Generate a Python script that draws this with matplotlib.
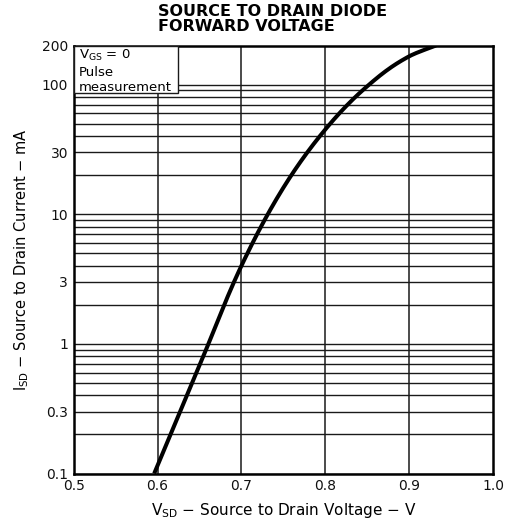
import matplotlib
matplotlib.use("Agg")
import matplotlib.pyplot as plt
import numpy as np
from matplotlib.ticker import FixedLocator, NullLocator, FixedFormatter

plt.rcParams['font.family'] = ['DejaVu Sans']

# data
vsd = [0.596, 0.65, 0.70, 0.75, 0.80, 0.85, 0.90, 0.932]
isd = [0.1, 0.68, 4.0, 16.0, 45.0, 97.0, 165.0, 200.0]

xticks = [0.5, 0.6, 0.7, 0.8, 0.9, 1.0]
xtick_labels = ["0.5", "0.6", "0.7", "0.8", "0.9", "1.0"]
yticks = [0.1, 0.3, 1, 3, 10, 30, 100, 200]
ytick_labels = ["0.1", "0.3", "1", "3", "10", "30", "100", "200"]
hgrid = [m * d for d in (0.1, 1, 10) for m in range(1, 10)] + [100]
vgrid = [0.6, 0.7, 0.8, 0.9]


def pchip(x, y, xs):
    x = np.asarray(x, float); y = np.asarray(y, float)
    h = np.diff(x); d = np.diff(y) / h
    m = np.zeros_like(y)
    for k in range(1, len(x) - 1):
        if d[k - 1] * d[k] > 0:
            w1 = 2 * h[k] + h[k - 1]; w2 = h[k] + 2 * h[k - 1]
            m[k] = (w1 + w2) / (w1 / d[k - 1] + w2 / d[k])
    m[0] = d[0] + (d[0] - d[1]) * h[0] / (h[0] + h[1]) * 0.5
    m[-1] = d[-1] + (d[-1] - d[-2]) * h[-1] / (h[-1] + h[-2]) * 0.5
    idx = np.clip(np.searchsorted(x, xs) - 1, 0, len(x) - 2)
    t = (xs - x[idx]) / h[idx]
    h00 = 2 * t**3 - 3 * t**2 + 1; h10 = t**3 - 2 * t**2 + t
    h01 = -2 * t**3 + 3 * t**2; h11 = t**3 - t**2
    return h00 * y[idx] + h10 * h[idx] * m[idx] + h01 * y[idx + 1] + h11 * h[idx] * m[idx + 1]


fig = plt.figure(figsize=(5.12, 5.29), dpi=100)
L, R, T, B = 73.7, 493, 45.5, 473.5
ax = fig.add_axes([L/512, 1-B/529, (R-L)/512, (B-T)/529])
ax.set_yscale('log')
ax.set_xlim(0.5, 1.0)
ax.set_ylim(0.1, 200)

for h in hgrid:
    ax.axhline(h, color='#1a1a1a', lw=1.0, zorder=1)
for v in vgrid:
    ax.axvline(v, color='#1a1a1a', lw=1.1, zorder=1)

# interpolate V as a smooth function of log10(I)
li = np.log10(isd)
ls = np.linspace(li[0], li[-1], 400)
vs = pchip(li, vsd, ls)
ax.plot(vs, 10 ** ls, color='black', lw=2.9, zorder=3, solid_capstyle='butt')

ax.xaxis.set_major_locator(FixedLocator(xticks))
ax.xaxis.set_major_formatter(FixedFormatter(xtick_labels))
ax.yaxis.set_major_locator(FixedLocator(yticks))
ax.yaxis.set_major_formatter(FixedFormatter(ytick_labels))
ax.yaxis.set_minor_locator(NullLocator())
ax.tick_params(axis='both', length=0, labelsize=10, pad=4, colors='#111111')
for s in ax.spines.values():
    s.set_linewidth(1.8)
    s.set_color('black')

# legend box
bw = (178 - L) / (R - L)
bh = (92.5 - T) / (B - T)
box = plt.Rectangle((0.0, 1 - bh), bw, bh, transform=ax.transAxes,
                    facecolor='white', edgecolor='#1a1a1a', lw=1.0, zorder=4)
ax.add_patch(box)
ax.text(0.012, 0.995, r"V$_{\rm GS}$ = 0", transform=ax.transAxes, fontsize=9.5,
        va='top', ha='left', zorder=5)
ax.text(0.012, 0.953, "Pulse", transform=ax.transAxes, fontsize=9.5,
        va='top', ha='left', zorder=5)
ax.text(0.012, 0.917, "measurement", transform=ax.transAxes, fontsize=9.5,
        va='top', ha='left', zorder=5)

fig.text(158/512, 1-4.5/529, "SOURCE TO DRAIN DIODE\nFORWARD VOLTAGE", ha='left', va='top',
         multialignment='left', fontsize=11.5, fontweight='bold', linespacing=0.92)

ax.set_xlabel(r"V$_{\rm SD}$ $-$ Source to Drain Voltage $-$ V", fontsize=11, labelpad=6)
ax.set_ylabel(r"I$_{\rm SD}$ $-$ Source to Drain Current $-$ mA", fontsize=10.5, labelpad=8)

fig.savefig("out.png", dpi=100)
